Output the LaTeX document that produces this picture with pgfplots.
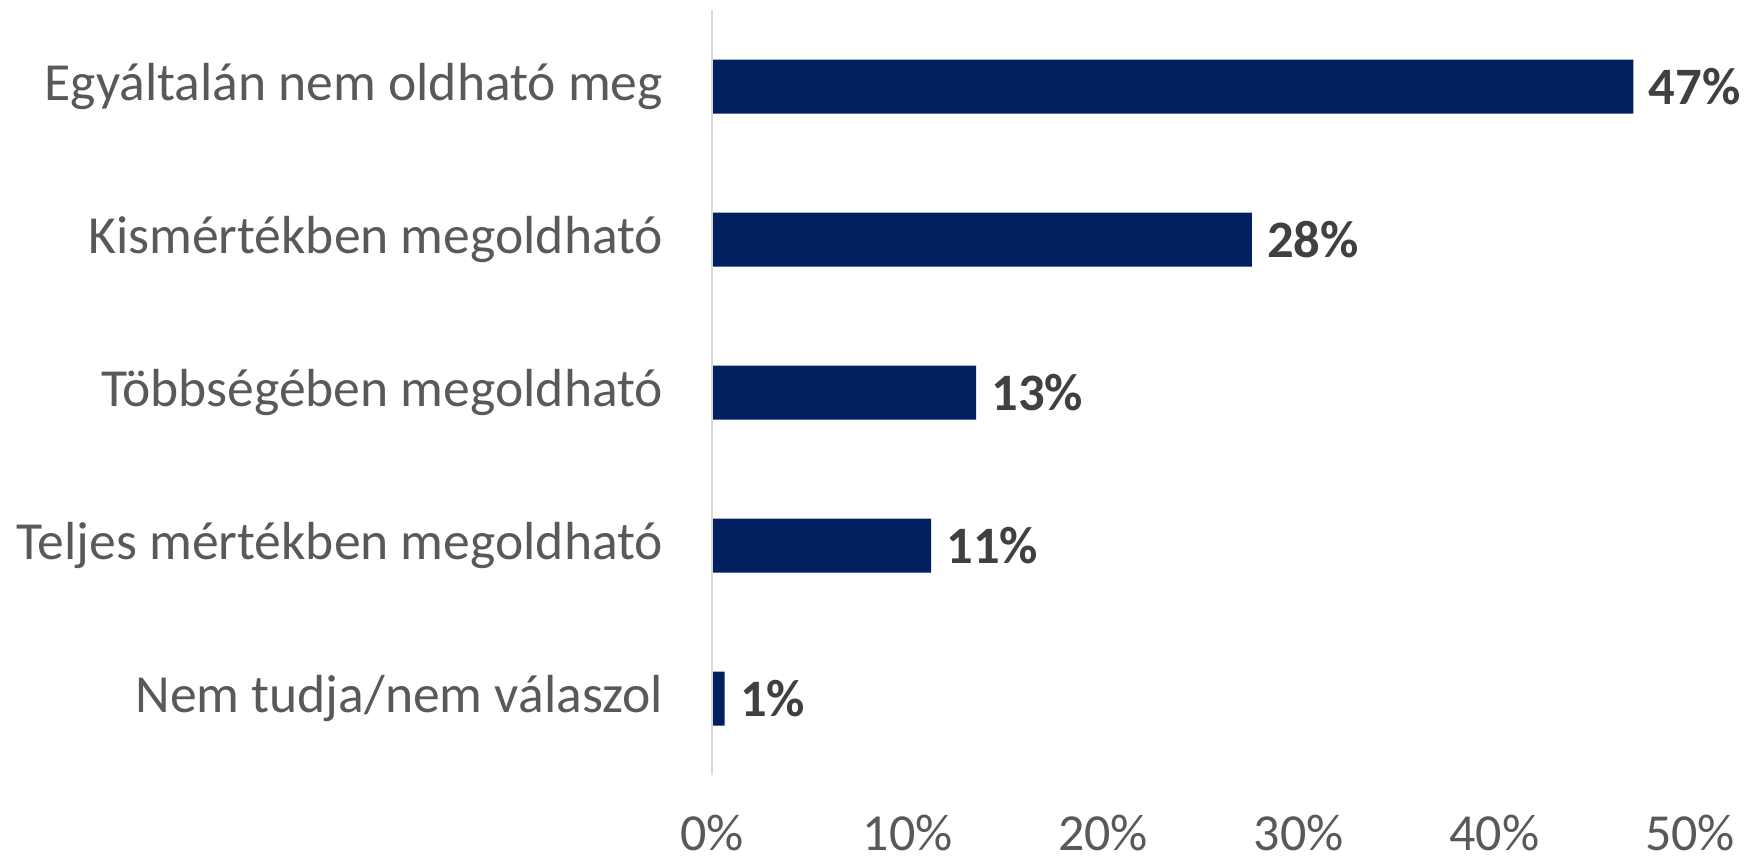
\documentclass[border=0pt]{standalone}
\usepackage{pgfplots}
\pgfplotsset{compat=1.18}
\usepackage{fontspec}
\setmainfont{Carlito}
\definecolor{barnavy}{HTML}{002060}
\definecolor{labgray}{HTML}{595959}
\definecolor{valgray}{HTML}{404040}
\definecolor{axisgray}{HTML}{D9D9D9}
\begin{document}
\begin{tikzpicture}
\path[use as bounding box] (-356pt,-44.5pt) rectangle (516pt,387.5pt);
\begin{axis}[
  at={(0,0)}, anchor=south west,
  scale only axis, width=489pt, height=382.5pt,
  xbar, bar width=27pt,
  xmin=0, xmax=50, ymin=-0.5, ymax=4.5, y dir=reverse,
  axis line style={draw=none},
  tick style={draw=none},
  xtick={0,10,20,30,40,50},
  xticklabels={0\%,10\%,20\%,30\%,40\%,50\%},
  ytick={0,1,2,3,4},
  yticklabels={Egyáltalán nem oldható meg,Kismértékben megoldható,Többségében megoldható,Teljes mértékben megoldható,Nem tudja/nem válaszol},
  xticklabel style={anchor=north, inner sep=0pt, yshift=-20pt, text=labgray, font=\fontsize{26}{30}\selectfont},
  yticklabel style={anchor=east, inner sep=0pt, xshift=-20pt, text=labgray, font=\fontsize{26.8}{30}\selectfont},
  point meta=explicit symbolic,
  nodes near coords,
  nodes near coords style={anchor=west, inner sep=0pt, xshift=7.5pt, text=valgray, font=\fontsize{26.3}{30}\selectfont\bfseries},
  clip=false,
]
\addplot[fill=barnavy, draw=none] table[meta=lab] {
x y lab
47.1 0 47\%
27.6 1 28\%
13.5 2 13\%
11.2 3 11\%
0.65 4 1\%
};
\draw[axisgray, line width=1pt] (axis cs:0,-0.5) -- (axis cs:0,4.5);
\end{axis}
\end{tikzpicture}
\end{document}
